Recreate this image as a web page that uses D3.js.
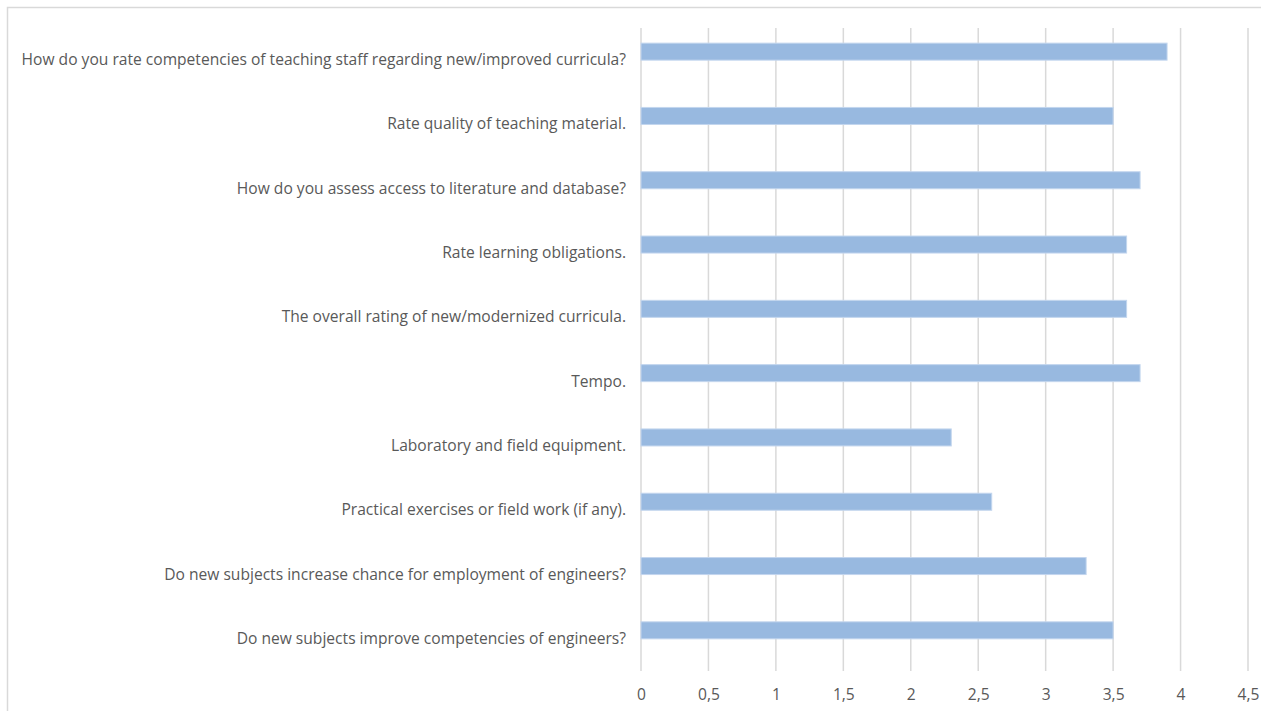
<!DOCTYPE html>
<html>
<head>
<meta charset="utf-8">
<script src="https://cdn.jsdelivr.net/npm/d3@7"></script>
<style>
  body { margin: 0; background: #fff; }
  text { font-family: "Open Sans", sans-serif; fill: #595959; }
</style>
</head>
<body>
<svg id="chart"></svg>
<script>
// questions, top to bottom
const questions = [
    "How do you rate competencies of teaching staff regarding new/improved curricula?",
    "Rate quality of teaching material.",
    "How do you assess access to literature and database?",
    "Rate learning obligations.",
    "The overall rating of new/modernized curricula.",
    "Tempo.",
    "Laboratory and field equipment.",
    "Practical exercises or field work (if any).",
    "Do new subjects increase chance for employment of engineers?",
    "Do new subjects improve competencies of engineers?"
];
const scores = [3.9, 3.5, 3.7, 3.6, 3.6, 3.7, 2.3, 2.6, 3.3, 3.5];
const xTicks = [0, 0.5, 1, 1.5, 2, 2.5, 3, 3.5, 4, 4.5];

const width = 1261, height = 711;
const margin = {top: 28, right: 13, bottom: 40, left: 641};

const svg = d3.select("#chart")
    .attr("width", width)
    .attr("height", height);

// chart frame (only left/top visible in the picture)
svg.append("rect")
    .attr("x", 7.5).attr("y", 7.5)
    .attr("width", 1270).attr("height", 720)
    .attr("fill", "none")
    .attr("stroke", "#d9d9d9")
    .attr("stroke-width", 1.5);

const x = d3.scaleLinear()
    .domain([0, 4.5])
    .range([margin.left, width - margin.right]);

// one row per question
const y = d3.scaleBand()
    .domain(questions)
    .range([margin.top, height - margin.bottom]);

// the bar sits in the upper of two slots in each row (excel clustered layout)
const slot = d3.scaleBand()
    .domain([0, 1])
    .range([0, y.bandwidth()])
    .paddingOuter(0.89);

// gridlines
svg.append("g")
    .selectAll("line")
    .data(xTicks)
    .join("line")
    .attr("x1", d => x(d)).attr("x2", d => x(d))
    .attr("y1", margin.top).attr("y2", height - margin.bottom)
    .attr("stroke", "#d9d9d9")
    .attr("stroke-width", 1.5);

// bars
svg.append("g")
    .selectAll("rect")
    .data(scores)
    .join("rect")
    .attr("x", x(0))
    .attr("y", (d, i) => y(questions[i]) + slot(0))
    .attr("width", d => x(d) - x(0))
    .attr("height", slot.bandwidth())
    .attr("fill", "#98b9e0")
    .attr("stroke", "#c3d6ee")
    .attr("stroke-width", 1);

// category labels
const fmt = d => String(d).replace(".", ",");
const yAxis = svg.append("g")
    .attr("transform", `translate(${margin.left},0)`)
    .call(d3.axisLeft(y).tickSize(0).tickPadding(15));
yAxis.select(".domain").remove();
yAxis.selectAll("text")
    .style("font-size", "15.6px")
    .attr("fill", "#595959");

// value axis
const xAxis = svg.append("g")
    .attr("transform", `translate(0,${height - margin.bottom})`)
    .call(d3.axisBottom(x).tickValues(xTicks).tickFormat(fmt).tickSize(0).tickPadding(18));
xAxis.select(".domain").remove();
xAxis.selectAll("text")
    .style("font-size", "15.6px")
    .attr("fill", "#595959");
</script>
</body>
</html>
